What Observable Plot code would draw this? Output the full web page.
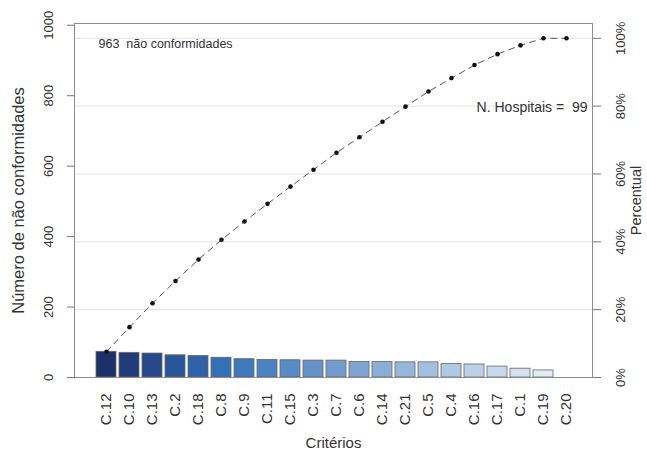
<!DOCTYPE html>
<html>
<head>
<meta charset="utf-8">
<script src="https://cdn.jsdelivr.net/npm/d3@7"></script>
<script src="https://cdn.jsdelivr.net/npm/@observablehq/plot@0.6"></script>
<style>
  body { margin: 0; background: #fff; }
  #chart svg { display: block; }
</style>
</head>
<body>
<div id="chart"></div>
<script>
// Pareto of non-conformities per criterion, sorted from most to least frequent
const criteria = ["C.12","C.10","C.13","C.2","C.18","C.8","C.9","C.11","C.15","C.3","C.7",
                  "C.6","C.14","C.21","C.5","C.4","C.16","C.17","C.1","C.19","C.20"];
const counts = [73, 70, 68, 63, 61, 56, 52, 50, 49, 48, 48, 44, 44, 43, 43, 38, 37, 31, 25, 20, 0];
const countTicks = [0, 200, 400, 600, 800, 1000];
const percentSteps = [0, 0.2, 0.4, 0.6, 0.8, 1];
const percentLabels = ["0%", "20%", "40%", "60%", "80%", "100%"];
const hospitals = 99;

const total = d3.sum(counts);
const cumulative = Array.from(d3.cumsum(counts));
const rows = criteria.map((c, i) => ({criterion: c, count: counts[i], cum: cumulative[i], rank: i}));
const percentValues = percentSteps.map(p => p * total);
const percentLabelOf = new Map(percentValues.map((v, i) => [v, percentLabels[i]]));

const font = "'Liberation Sans', Arial, Helvetica, sans-serif";
const ink = "#333";

const chart = Plot.plot({
  width: 647,
  height: 453,
  marginLeft: 74,
  marginRight: 55,
  marginTop: 23,
  marginBottom: 76,
  style: {fontFamily: font, background: "#fff", color: ink, overflow: "visible"},
  x: {type: "band", domain: criteria, range: [91.4, 579.6], paddingInner: 0.14, paddingOuter: 0.07, axis: null},
  y: {domain: [0, 1005], axis: null},
  color: {type: "linear", domain: [0, 5, 19], range: ["#1c2f6b", "#3270b8", "#e0ecf6"], interpolate: "rgb"},
  marks: [
    // light grid at the cumulative-percentage ticks
    Plot.ruleY(percentValues.slice(1), {stroke: "#e2e2e2", strokeWidth: 1}),
    Plot.barY(rows.filter(d => d.count > 0), {
      x: "criterion", y: "count", fill: "rank", stroke: "#666", strokeWidth: 0.8
    }),
    // cumulative curve
    Plot.line(rows, {x: "criterion", y: "cum", stroke: "#555", strokeWidth: 1, strokeDasharray: "6,5"}),
    Plot.dot(rows, {x: "criterion", y: "cum", r: 2.3, fill: "#111", stroke: null}),
    Plot.frame({stroke: "#8c8c8c"}),
    // left axis: counts
    Plot.axisY(countTicks, {
      anchor: "left", tickSize: 7, tickPadding: 19, tickRotate: -90,
      textAnchor: "middle", lineAnchor: "middle", fontSize: 13,
      tickFormat: v => String(v),
      stroke: "#777", fill: ink, label: null
    }),
    // right axis: cumulative percentage
    Plot.axisY(percentValues, {
      anchor: "right", tickSize: 8, tickPadding: 20, tickRotate: -90,
      textAnchor: "middle", lineAnchor: "middle", fontSize: 13,
      tickFormat: v => percentLabelOf.get(v),
      stroke: "#777", fill: ink, label: null
    }),
    // category labels, vertical and hanging below the baseline
    Plot.text(criteria, {
      x: d => d, frameAnchor: "bottom", dy: 16, rotate: -90,
      textAnchor: "end", lineAnchor: "middle", fontSize: 15, fill: ink
    }),
    // axis titles
    Plot.text(["Número de não conformidades"], {
      frameAnchor: "left", dx: -56, rotate: -90, textAnchor: "middle", lineAnchor: "middle",
      fontSize: 16.5, fill: ink
    }),
    Plot.text(["Percentual"], {
      frameAnchor: "right", dx: 44, rotate: -90, textAnchor: "middle", lineAnchor: "middle",
      fontSize: 14.5, fill: ink
    }),
    Plot.text(["Critérios"], {
      frameAnchor: "bottom", dy: 70, textAnchor: "middle", lineAnchor: "bottom",
      fontSize: 15, fill: ink
    }),
    // annotations
    Plot.text([`${total}\u00a0 não conformidades`], {
      frameAnchor: "top-left", dx: 24, dy: 20, textAnchor: "start", lineAnchor: "middle",
      fontSize: 12.5, fill: ink
    }),
    Plot.text([`N. Hospitais =\u00a0 ${hospitals}`], {
      frameAnchor: "top-right", dx: -5, dy: 84, textAnchor: "end", lineAnchor: "middle",
      fontSize: 14, fill: ink
    })
  ]
});

document.getElementById("chart").append(chart);
</script>
</body>
</html>
